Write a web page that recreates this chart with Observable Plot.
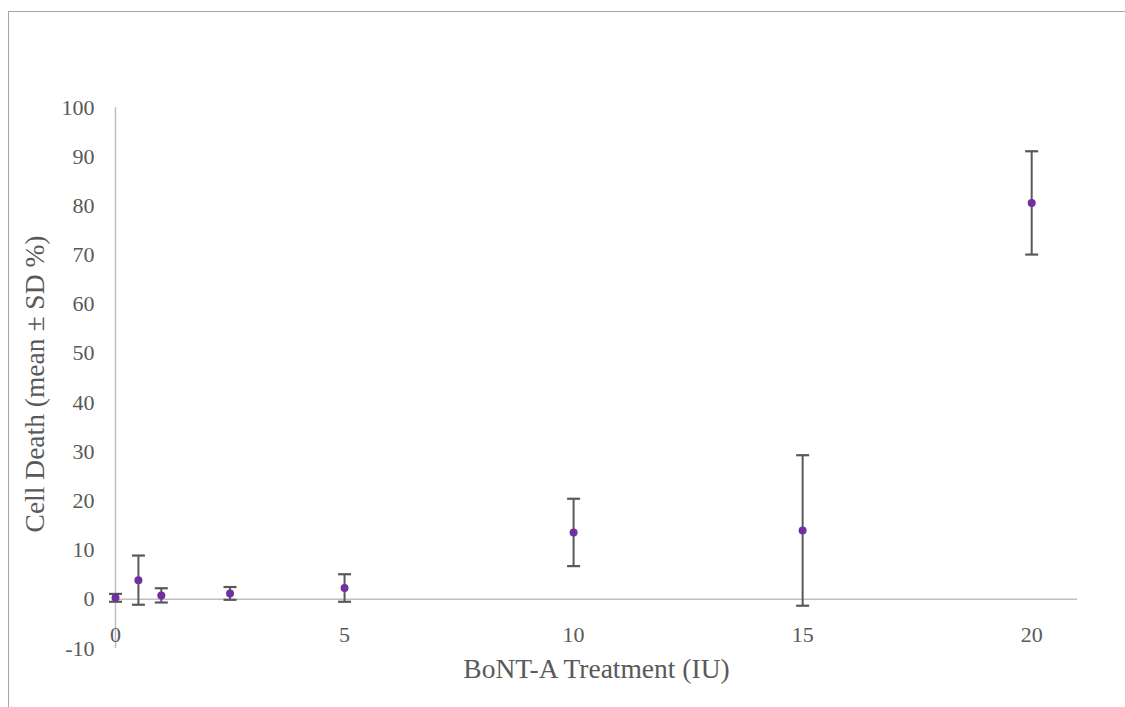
<!DOCTYPE html>
<html>
<head>
<meta charset="utf-8">
<script src="https://cdn.jsdelivr.net/npm/d3@7"></script>
<script src="https://cdn.jsdelivr.net/npm/@observablehq/plot@0.6"></script>
<style>
  html, body { margin: 0; padding: 0; background: #fff; }
  #wrap { position: relative; width: 1125px; height: 707px; overflow: hidden; }
  #borderTop { position: absolute; left: 8px; top: 11px; width: 1117px; height: 0; border-top: 1px solid #a6a6a6; }
  #borderLeft { position: absolute; left: 8px; top: 11px; width: 0; height: 696px; border-left: 1px solid #a6a6a6; }
  svg { position: absolute; left: 0; top: 0; }
</style>
</head>
<body>
<div id="wrap"><div id="borderTop"></div><div id="borderLeft"></div></div>
<script>
const doses = [0, 0.5, 1, 2.5, 5, 10, 15, 20];
const means = [0.3, 3.9, 0.8, 1.2, 2.3, 13.6, 14.0, 80.6];
const sds   = [0.8, 5.0, 1.45, 1.3, 2.8, 6.85, 15.3, 10.5];
const xTicks = [0, 5, 10, 15, 20];
const yTicks = [-10, 0, 10, 20, 30, 40, 50, 60, 70, 80, 90, 100];
const xTitle = "BoNT-A Treatment (IU)";
const yTitle = "Cell Death (mean ± SD %)";

const data = doses.map((d, i) => ({x: d, y: means[i], lo: means[i] - sds[i], hi: means[i] + sds[i]}));

const capSymbol = {
  draw(context) {
    context.moveTo(-6.5, 0);
    context.lineTo(6.5, 0);
  }
};

const grey = "#595959";
const font = "'Liberation Serif', 'Times New Roman', serif";

const chart = Plot.plot({
  width: 1125,
  height: 707,
  marginLeft: 115,
  marginRight: 48,
  marginTop: 107,
  marginBottom: 59,
  style: {fontFamily: font, fontSize: "22px", color: grey, background: "transparent"},
  x: {domain: [0, 21], axis: null},
  y: {domain: [-10, 100], axis: null},
  marks: [
    Plot.ruleX([0], {y1: -10, y2: 100, stroke: "#bfbfbf", strokeWidth: 1.5}),
    Plot.ruleY([0], {x1: 0, x2: 21, stroke: "#bfbfbf", strokeWidth: 1.5}),
    Plot.axisY({ticks: yTicks, tickSize: 0, tickPadding: 21, tickFormat: d => String(d), label: null, fontSize: 22, fill: grey}),
    Plot.text(xTicks, {x: d => d, y: 0, dy: 36, text: d => String(d), fontSize: 22, fill: grey, lineAnchor: "middle"}),
    Plot.ruleX(data, {x: "x", y1: "lo", y2: "hi", stroke: grey, strokeWidth: 2}),
    Plot.dot(data, {x: "x", y: "lo", symbol: capSymbol, r: 6, stroke: grey, strokeWidth: 2.2, fill: "none"}),
    Plot.dot(data, {x: "x", y: "hi", symbol: capSymbol, r: 6, stroke: grey, strokeWidth: 2.2, fill: "none"}),
    Plot.dot(data, {x: "x", y: "y", r: 4, fill: "#7030a0", stroke: "none"}),
    Plot.text([xTitle], {frameAnchor: "bottom", dy: 21, text: d => d, fontSize: 27.5, fill: grey, lineAnchor: "middle", textAnchor: "middle"}),
    Plot.text([yTitle], {frameAnchor: "left", dx: -80, dy: 6, rotate: -90, text: d => d, fontSize: 27.5, fill: grey, lineAnchor: "middle", textAnchor: "middle"})
  ]
});
document.getElementById("wrap").appendChild(chart);
</script>
</body>
</html>
